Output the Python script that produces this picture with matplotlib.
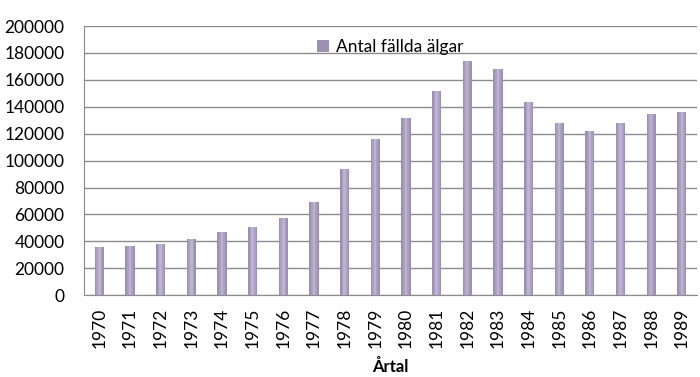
import matplotlib
matplotlib.use("Agg")
import matplotlib.pyplot as plt
import numpy as np

# Data
years = [str(y) for y in range(1970, 1990)]
algar = [35500, 36900, 38400, 41400, 46600, 51000, 57000, 69400, 93700, 116000,
         131800, 151400, 174200, 168000, 143300, 127700, 121700, 128200, 134600, 136100]

plt.rcParams['font.family'] = ['Lato', 'DejaVu Sans']

fig = plt.figure(figsize=(7, 3.77), dpi=100)
ax = fig.add_axes([0.12, 0.217, 0.876, 0.714])

x = np.arange(len(years))

# cylindrical look: base bar, darker edges, lighter centre
ax.bar(x, algar, width=0.30, color='#9d90b3', zorder=3, label='Antal fällda älgar')
ax.bar(x, algar, width=0.20, color='#ab9fc2', zorder=4)
ax.bar(x, algar, width=0.08, color='#bdb2d1', zorder=5)

ax.set_xlim(-0.5, len(years) - 0.5)
ax.set_ylim(0, 200000)
ax.set_yticks(range(0, 200001, 20000))
ax.set_xticks(x)
ax.set_xticklabels(years, rotation=90, fontsize=12.5)
ax.tick_params(axis='y', labelsize=12.5, length=0, pad=14)
ax.tick_params(axis='x', length=0, pad=9)

ax.grid(axis='y', color='#8c8c8c', linewidth=1, zorder=0)
for s in ['top', 'right']:
    ax.spines[s].set_visible(False)
for s in ['left', 'bottom']:
    ax.spines[s].set_color('#8c8c8c')

ax.set_xlabel('Årtal', fontsize=12, fontweight='bold', labelpad=8)

leg = ax.legend(loc='upper center', bbox_to_anchor=(0.5, 1.01), frameon=False,
                fontsize=12.5, handlelength=0.7, handleheight=0.7, handletextpad=0.4)

fig.savefig('out.png', dpi=100)
